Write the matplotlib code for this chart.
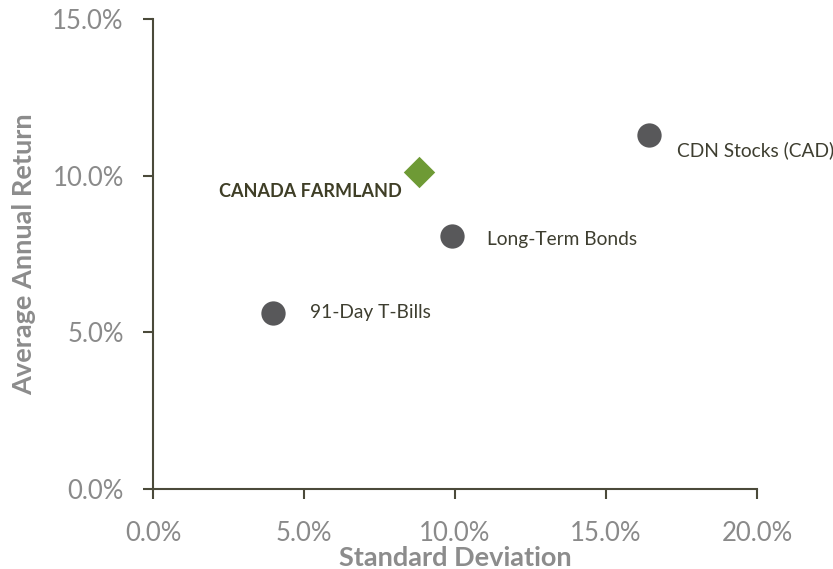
import matplotlib
matplotlib.use("Agg")
import matplotlib.pyplot as plt
from matplotlib.ticker import FuncFormatter

names = ["CDN Stocks (CAD)", "Long-Term Bonds", "91-Day T-Bills"]
std_dev = [16.43, 9.91, 3.98]
avg_return = [11.30, 8.08, 5.62]

farm_name = "CANADA FARMLAND"
farm_std = 8.81
farm_ret = 10.12

x_ticks = [0, 5, 10, 15, 20]
y_ticks = [0, 5, 10, 15]

plt.rcParams['font.family'] = ['Lato', 'DejaVu Sans']

fig = plt.figure(figsize=(8.33, 5.69), dpi=100)
ax = fig.add_axes([0.1837, 0.1406, 0.7251, 0.8260])

axis_col = '#4b4a3a'
tick_col = '#8a8a8a'

ax.scatter(std_dev, avg_return, s=(17.5)**2, color='#58585a', zorder=3, linewidths=0)
ax.scatter([farm_std], [farm_ret], s=(16)**2, marker='D', color='#6e9a35', zorder=3, linewidths=0)

offsets = [(28, -15), (35, -4), (37, 0)]
for n, x, y, off in zip(names, std_dev, avg_return, offsets):
    ax.annotate(n, (x, y), xytext=off, textcoords='offset pixels',
                ha='left', va='center', fontsize=13.8, color='#3e3e30')
ax.annotate(farm_name, (farm_std, farm_ret), xytext=(-17, -20), textcoords='offset pixels',
            ha='right', va='center', fontsize=13, fontweight='bold', color='#3f3e26')

ax.set_xlim(0, 20)
ax.set_ylim(0, 15)
ax.set_xticks(x_ticks)
ax.set_yticks(y_ticks)
fmt = FuncFormatter(lambda v, p: f"{v:.1f}%")
ax.xaxis.set_major_formatter(fmt)
ax.yaxis.set_major_formatter(fmt)

for s in ['top', 'right']:
    ax.spines[s].set_visible(False)
for s in ['left', 'bottom']:
    ax.spines[s].set_color(axis_col)
    ax.spines[s].set_linewidth(1.5)
ax.tick_params(axis='both', direction='out', length=7, width=1.5, color=axis_col,
               labelcolor=tick_col, labelsize=18.5)
ax.tick_params(axis='x', pad=16)
ax.tick_params(axis='y', pad=14)

ax.set_xlabel("Standard Deviation", fontsize=19.5, fontweight='bold', color='#8c8c8c', labelpad=0)
ax.set_ylabel("Average Annual Return", fontsize=19.5, fontweight='bold', color='#8c8c8c', labelpad=12)

fig.savefig("out.png", dpi=100)
